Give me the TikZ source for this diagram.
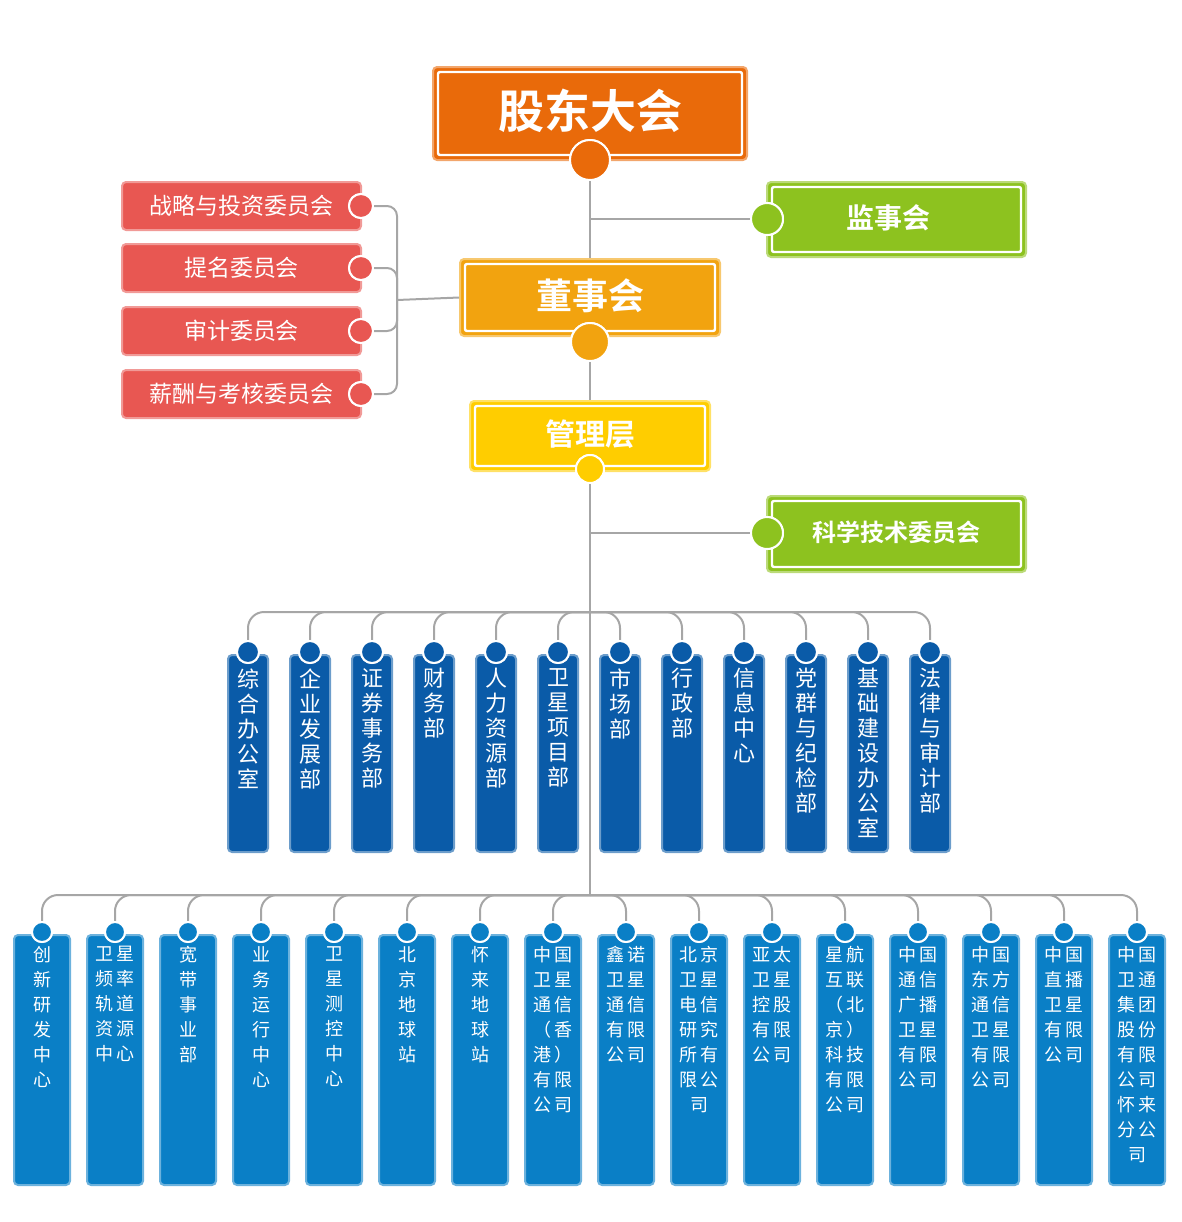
\documentclass[tikz,border=0pt]{standalone}
\usepackage{fontspec}
\setmainfont{Noto Sans CJK SC}
\newfontfamily\cjkb{Noto Sans CJK SC}[BoldFont={* Bold}]
\newcommand\hs{\hspace{1.5pt}}
\begin{document}
\begin{tikzpicture}[x=0.5pt,y=-0.5pt,
 line/.style={draw=gray!70,line width=1pt},
 box/.style={rectangle,rounded corners=2pt,draw=#1!60!white,line width=1pt,fill=#1,text=white,inner sep=0pt},
 ball/.style={circle,draw=white,line width=1pt,fill=#1,inner sep=0pt},
 vt/.style={align=center,text=white,anchor=north,inner sep=0pt,font=\fontsize{11}{12.5}\selectfont},
 bt/.style={align=center,text=white,anchor=north,inner sep=0pt,font=\fontsize{9}{12.5}\selectfont},
 inset/.style={draw=white,line width=1.2pt,rounded corners=1pt}]
\definecolor{org}{HTML}{E96A0A}\definecolor{grn}{HTML}{8DC21F}
\definecolor{amb}{HTML}{F2A30F}\definecolor{yel}{HTML}{FFCD00}
\definecolor{red}{HTML}{E85752}\definecolor{dblue}{HTML}{0A5BA8}
\definecolor{lblue}{HTML}{0A7FC6}
\useasboundingbox (0,0) rectangle (1182,1222);
% main spine nodes
\node[box=org,minimum width=157pt,minimum height=46.5pt] (gd) at (590,113.5) {};
\draw[inset] ([shift={(3pt,3pt)}]gd.south west) rectangle ([shift={(-3pt,-3pt)}]gd.north east);
\node[text=white,font=\cjkb\bfseries\fontsize{23}{23}\selectfont] at (590,111) {股东大会};
\node[box=grn,minimum width=129.5pt,minimum height=37.5pt] (js) at (896.5,219.5) {};
\draw[inset] ([shift={(3pt,3pt)}]js.south west) rectangle ([shift={(-3pt,-3pt)}]js.north east);
\node[text=white,font=\cjkb\bfseries\fontsize{14}{14}\selectfont] at (888,218) {监事会};
\node[box=amb,minimum width=130pt,minimum height=38.5pt] (ds) at (590,297.5) {};
\draw[inset] ([shift={(3pt,3pt)}]ds.south west) rectangle ([shift={(-3pt,-3pt)}]ds.north east);
\node[text=white,font=\cjkb\bfseries\fontsize{18}{18}\selectfont] at (590,296) {董事会};
\node[box=yel,minimum width=120pt,minimum height=35pt] (gl) at (590,436) {};
\draw[inset] ([shift={(3pt,3pt)}]gl.south west) rectangle ([shift={(-3pt,-3pt)}]gl.north east);
\node[text=white,font=\cjkb\bfseries\fontsize{15}{15}\selectfont] at (590,434) {管理层};
\node[box=grn,minimum width=129.5pt,minimum height=38pt] (kx) at (896.5,534) {};
\draw[inset] ([shift={(3pt,3pt)}]kx.south west) rectangle ([shift={(-3pt,-3pt)}]kx.north east);
\node[text=white,font=\cjkb\bfseries\fontsize{12}{12}\selectfont] at (896,532) {科学技术委员会};
% committees
\foreach \n/\y/\t in {c1/206/战略与投资委员会,c2/268/提名委员会,c3/331/审计委员会,c4/394/薪酬与考核委员会}{
 \node[box=red,minimum width=119.5pt,minimum height=24pt,font=\fontsize{11.5}{12}\selectfont] (\n) at (241.5,\y) {\t};
 \node[ball=red,minimum size=12pt] (\n b) at (361,\y) {};
}
% balls on spine
\node[ball=org,minimum size=20pt] (gdb) at (590,160) {};
\node[ball=grn,minimum size=16pt] (jsb) at (767,219) {};
\node[ball=amb,minimum size=19pt] (dsb) at (590,342) {};
\node[ball=yel,minimum size=14pt] (glb) at (590,469) {};
\node[ball=grn,minimum size=16pt] (kxb) at (767,533) {};
\coordinate (bus1) at (590,612);
\coordinate (bus2) at (590,895);
\coordinate (jj) at (590,219);
\coordinate (kj) at (590,533);
\coordinate (cj) at (397,300);
\begin{scope}[on background layer/.style={}]
\end{scope}
% middle departments
\foreach \i/\t in {1/综\\合\\办\\公\\室,2/企\\业\\发\\展\\部,3/证\\券\\事\\务\\部,4/财\\务\\部,5/人\\力\\资\\源\\部,6/卫\\星\\项\\目\\部,7/市\\场\\部,8/行\\政\\部,9/信\\息\\中\\心,10/党\\群\\与\\纪\\检\\部,11/基\\础\\建\\设\\办\\公\\室,12/法\\律\\与\\审\\计\\部}{
 \pgfmathsetmacro\xx{186+62*\i}
 \node[box=dblue,minimum width=20pt,minimum height=98.5pt] (m\i) at (\xx,753.5) {};
 \node[vt] at (\xx,668) {\t};
 \node[ball=dblue,minimum size=11pt] (m\i b) at (\xx,652) {};
}
% bottom units
\foreach \i/\t in {1/创\\新\\研\\发\\中\\心,2/卫\hs 星\\频\hs 率\\轨\hs 道\\资\hs 源\\中\hs 心,3/宽\\带\\事\\业\\部,4/业\\务\\运\\行\\中\\心,5/卫\\星\\测\\控\\中\\心,6/北\\京\\地\\球\\站,7/怀\\来\\地\\球\\站,8/中\hs 国\\卫\hs 星\\通\hs 信\\（\hs 香\\港\hs ）\\有\hs 限\\公\hs 司,9/鑫\hs 诺\\卫\hs 星\\通\hs 信\\有\hs 限\\公\hs 司,10/北\hs 京\\卫\hs 星\\电\hs 信\\研\hs 究\\所\hs 有\\限\hs 公\\司,11/亚\hs 太\\卫\hs 星\\控\hs 股\\有\hs 限\\公\hs 司,12/星\hs 航\\互\hs 联\\（\hs 北\\京\hs ）\\科\hs 技\\有\hs 限\\公\hs 司,13/中\hs 国\\通\hs 信\\广\hs 播\\卫\hs 星\\有\hs 限\\公\hs 司,14/中\hs 国\\东\hs 方\\通\hs 信\\卫\hs 星\\有\hs 限\\公\hs 司,15/中\hs 国\\直\hs 播\\卫\hs 星\\有\hs 限\\公\hs 司,16/中\hs 国\\卫\hs 通\\集\hs 团\\股\hs 份\\有\hs 限\\公\hs 司\\怀\hs 来\\分\hs 公\\司}{
 \pgfmathsetmacro\xx{-31+73*\i}
 \node[box=lblue,minimum width=28pt,minimum height=125pt] (b\i) at (\xx,1060) {};
 \node[bt] at (\xx,946) {\t};
 \node[ball=lblue,minimum size=10pt] (b\i b) at (\xx,932) {};
}
% connectors
\begin{scope}[line]
\draw (gdb) -- (ds.north); \draw (ds.south) -- (dsb);
\draw (dsb) -- (gl.north); \draw (glb) -- (bus2);
\draw (jj) -- (jsb); \draw (kj) -- (kxb);
\draw (cj) -- (ds.west);
\draw[rounded corners=5pt] (c1b) -| (cj) |- (c4b);
\draw[rounded corners=5pt] (c2b) -| (cj) |- (c3b);
\foreach \i in {1,...,12}{\draw[rounded corners=8pt] (bus1) -| (m\i b);}
\foreach \i in {1,...,16}{\draw[rounded corners=8pt] (bus2) -| (b\i b);}
\end{scope}
% redraw balls on top
\foreach \n/\c/\s/\x/\y in {gdb/org/20/590/160,jsb/grn/16/767/219,dsb/amb/19/590/342,glb/yel/14/590/469,kxb/grn/16/767/533}{
 \node[ball=\c,minimum size=\s pt] at (\x,\y) {};}
\foreach \y in {206,268,331,394}{\node[ball=red,minimum size=12pt] at (361,\y) {};}
\foreach \i in {1,...,12}{\pgfmathsetmacro\xx{186+62*\i}\node[ball=dblue,minimum size=11pt] at (\xx,652) {};}
\foreach \i in {1,...,16}{\pgfmathsetmacro\xx{-31+73*\i}\node[ball=lblue,minimum size=10pt] at (\xx,932) {};}
\end{tikzpicture}
\end{document}
